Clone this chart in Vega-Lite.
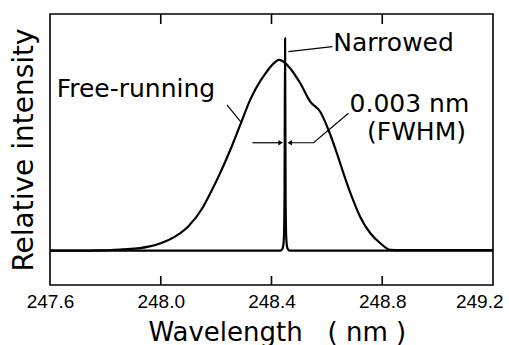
{
  "$schema": "https://vega.github.io/schema/vega-lite/v6.json",
  "width": 443,
  "height": 271,
  "autosize": "none",
  "padding": {"left": 50, "top": 14, "right": 16, "bottom": 60},
  "background": "white",
  "config": {
    "view": {"stroke": "black", "strokeWidth": 1.6},
    "font": "DejaVu Sans"
  },
  "datasets": {
    "curves": [
      {"series": "free", "w": 247.6, "v": 0.0},
      {"series": "free", "w": 247.7, "v": 0.0},
      {"series": "free", "w": 247.78, "v": 0.001},
      {"series": "free", "w": 247.86, "v": 0.006},
      {"series": "free", "w": 247.925, "v": 0.012},
      {"series": "free", "w": 247.96, "v": 0.02},
      {"series": "free", "w": 248.0, "v": 0.035},
      {"series": "free", "w": 248.05, "v": 0.065},
      {"series": "free", "w": 248.1, "v": 0.115},
      {"series": "free", "w": 248.15, "v": 0.2},
      {"series": "free", "w": 248.178, "v": 0.268},
      {"series": "free", "w": 248.214, "v": 0.364},
      {"series": "free", "w": 248.251, "v": 0.474},
      {"series": "free", "w": 248.287, "v": 0.592},
      {"series": "free", "w": 248.323, "v": 0.71},
      {"series": "free", "w": 248.347, "v": 0.772},
      {"series": "free", "w": 248.383, "v": 0.843},
      {"series": "free", "w": 248.402, "v": 0.874},
      {"series": "free", "w": 248.428, "v": 0.898},
      {"series": "free", "w": 248.449, "v": 0.884},
      {"series": "free", "w": 248.467, "v": 0.859},
      {"series": "free", "w": 248.504, "v": 0.788},
      {"series": "free", "w": 248.54, "v": 0.702},
      {"series": "free", "w": 248.576, "v": 0.654},
      {"series": "free", "w": 248.606, "v": 0.568},
      {"series": "free", "w": 248.636, "v": 0.459},
      {"series": "free", "w": 248.66, "v": 0.364},
      {"series": "free", "w": 248.69, "v": 0.254},
      {"series": "free", "w": 248.72, "v": 0.16},
      {"series": "free", "w": 248.757, "v": 0.082},
      {"series": "free", "w": 248.793, "v": 0.035},
      {"series": "free", "w": 248.829, "v": 0.004},
      {"series": "free", "w": 248.87, "v": 0.003},
      {"series": "free", "w": 249.2, "v": 0.003},
      {"series": "narrow", "w": 247.6, "v": 0.0},
      {"series": "narrow", "w": 248.43, "v": 0.0},
      {"series": "narrow", "w": 248.438, "v": 0.006},
      {"series": "narrow", "w": 248.442, "v": 0.02},
      {"series": "narrow", "w": 248.445, "v": 0.07},
      {"series": "narrow", "w": 248.447, "v": 0.25},
      {"series": "narrow", "w": 248.449, "v": 1.0},
      {"series": "narrow", "w": 248.451, "v": 0.25},
      {"series": "narrow", "w": 248.453, "v": 0.07},
      {"series": "narrow", "w": 248.456, "v": 0.02},
      {"series": "narrow", "w": 248.46, "v": 0.006},
      {"series": "narrow", "w": 248.468, "v": 0.0},
      {"series": "narrow", "w": 249.2, "v": 0.0}
    ],
    "leaders": [
      {"id": "narrowed", "w": 248.461, "v": 0.937},
      {"id": "narrowed", "w": 248.62, "v": 0.96},
      {"id": "free", "w": 248.239, "v": 0.686},
      {"id": "free", "w": 248.293, "v": 0.6},
      {"id": "fwhm", "w": 248.464, "v": 0.508},
      {"id": "fwhm", "w": 248.552, "v": 0.508},
      {"id": "fwhm", "w": 248.678, "v": 0.647},
      {"id": "left", "w": 248.331, "v": 0.508},
      {"id": "left", "w": 248.435, "v": 0.508}
    ],
    "arrows": [
      {"dir": "right", "w": 248.433, "v": 0.508},
      {"dir": "left", "w": 248.466, "v": 0.508}
    ],
    "ticks": [
      {"w": 248.0},
      {"w": 248.4},
      {"w": 248.8}
    ],
    "labels": [
      {"text": "Narrowed", "w": 248.623, "v": 0.942},
      {"text": "Free-running", "w": 247.624, "v": 0.725},
      {"text": "0.003 nm", "w": 248.682, "v": 0.653},
      {"text": "(FWHM)", "w": 248.745, "v": 0.52}
    ]
  },
  "layer": [
    {
      "data": {"name": "curves"},
      "mark": {"type": "line", "color": "black", "strokeWidth": 2.2, "strokeJoin": "round", "interpolate": "monotone"},
      "encoding": {
        "x": {
          "field": "w", "type": "quantitative",
          "scale": {"domain": [247.6, 249.2], "nice": false, "zero": false},
          "axis": {
            "orient": "bottom",
            "values": [247.6, 248.0, 248.4, 248.8, 249.2],
            "format": ".1f",
            "domain": false,
            "grid": false,
            "ticks": false,
            "labelFont": "Liberation Sans",
            "labelFontSize": 19,
            "labelColor": "black",
            "labelPadding": 7,
            "labelAlign": {"condition": {"test": "datum.value >= 249.19", "value": "right"}, "value": "center"},
            "labelOffset": {"condition": {"test": "datum.value >= 249.19", "value": 10}, "value": 0},
            "title": "Wavelength\u00a0\u00a0\u00a0(\u00a0nm\u00a0)",
            "titleFont": "DejaVu Sans",
            "titleFontSize": 26,
            "titleFontWeight": "normal",
            "titleColor": "black",
            "titleAlign": "left",
            "titleAnchor": "start",
            "titleX": 98,
            "titleY": 55,
            "titleBaseline": "alphabetic"
          }
        },
        "y": {
          "field": "v", "type": "quantitative",
          "scale": {"domain": [-0.1615, 1.114], "nice": false, "zero": false},
          "axis": {
            "domain": false, "grid": false, "ticks": false, "labels": false,
            "title": "Relative intensity",
            "titleFont": "DejaVu Sans",
            "titleFontSize": 28,
            "titleFontWeight": "normal",
            "titleColor": "black",
            "titlePadding": 12
          }
        },
        "detail": {"field": "series"}
      }
    },
    {
      "data": {"name": "ticks"},
      "mark": {"type": "rule", "color": "black", "strokeWidth": 1.6},
      "encoding": {
        "x": {"field": "w", "type": "quantitative"},
        "y": {"datum": -0.1615},
        "y2": {"datum": -0.119}
      }
    },
    {
      "data": {"name": "ticks"},
      "mark": {"type": "rule", "color": "black", "strokeWidth": 1.6},
      "encoding": {
        "x": {"field": "w", "type": "quantitative"},
        "y": {"datum": 1.114},
        "y2": {"datum": 1.067}
      }
    },
    {
      "data": {"name": "leaders"},
      "mark": {"type": "line", "color": "black", "strokeWidth": 1.2},
      "encoding": {
        "x": {"field": "w", "type": "quantitative"},
        "y": {"field": "v", "type": "quantitative"},
        "detail": {"field": "id"}
      }
    },
    {
      "data": {"name": "arrows"},
      "mark": {"type": "point", "filled": true, "color": "black", "size": 28, "opacity": 1},
      "encoding": {
        "x": {"field": "w", "type": "quantitative"},
        "y": {"field": "v", "type": "quantitative"},
        "shape": {
          "field": "dir", "type": "nominal",
          "scale": {"domain": ["right", "left"], "range": ["triangle-right", "triangle-left"]},
          "legend": null
        }
      }
    },
    {
      "data": {"name": "labels"},
      "mark": {"type": "text", "align": "left", "baseline": "alphabetic", "font": "DejaVu Sans", "fontSize": 25, "color": "black"},
      "encoding": {
        "x": {"field": "w", "type": "quantitative"},
        "y": {"field": "v", "type": "quantitative"},
        "text": {"field": "text"}
      }
    }
  ]
}
